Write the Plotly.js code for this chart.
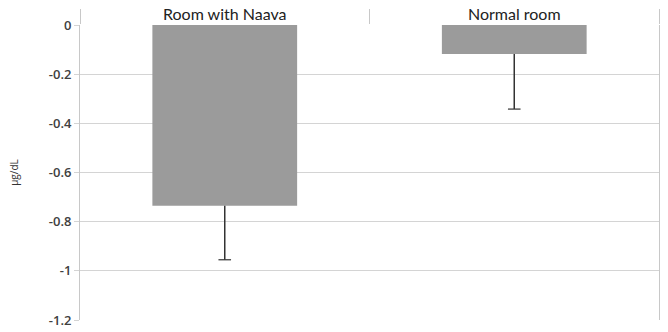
<!DOCTYPE html>
<html>
<head>
<meta charset="utf-8">
<script src="https://cdn.plot.ly/plotly-3.0.1.min.js"></script>
<style>html,body{margin:0;padding:0;background:#fff;}#chart{width:668px;height:332px;}</style>
</head>
<body>
<div id="chart"></div>
<script>
var categories = ["Room with Naava", "Normal room"];
var values = [-0.735, -0.118];
var errorsMinus = [0.22, 0.224];
var yTickValues = [0, -0.2, -0.4, -0.6, -0.8, -1, -1.2];
var yTickLabels = ["0", "-0.2", "-0.4", "-0.6", "-0.8", "-1", "-1.2"];

var barTrace = {
  type: "bar",
  x: categories,
  y: values,
  width: 0.5,
  marker: {color: "#9b9b9b", line: {width: 0}},
  error_y: {
    type: "data",
    symmetric: false,
    array: values.map(function(){return 0;}),
    arrayminus: errorsMinus,
    color: "#333333",
    thickness: 1.5,
    width: 0
  },
  hoverinfo: "none"
};

var capTrace = {
  type: "scatter",
  mode: "markers",
  x: categories,
  y: values.map(function(v, i){return v - errorsMinus[i];}),
  marker: {symbol: "line-ew", size: 9, color: "#333333", line: {color: "#333333", width: 1.2}},
  hoverinfo: "none"
};

var layout = {
  width: 668,
  height: 332,
  margin: {l: 80, r: 9, t: 25, b: 12},
  paper_bgcolor: "#ffffff",
  plot_bgcolor: "#ffffff",
  showlegend: false,
  xaxis: {
    type: "category",
    side: "top",
    range: [-0.5, 1.5],
    showgrid: false,
    showline: false,
    zeroline: false,
    ticks: "outside",
    tickson: "boundaries",
    ticklen: 15,
    tickcolor: "#c8c8c8",
    tickwidth: 1,
    ticklabelstandoff: 1,
    tickfont: {family: "Lato, 'Open Sans', sans-serif", size: 16, color: "#222222"}
  },
  yaxis: {
    range: [-1.2, 0],
    tickvals: yTickValues,
    ticktext: yTickLabels,
    showgrid: true,
    gridcolor: "#d4d4d4",
    gridwidth: 1,
    zeroline: false,
    showline: true,
    linecolor: "#c8c8c8",
    linewidth: 1,
    mirror: true,
    ticks: "outside",
    ticklen: 5,
    tickcolor: "#d4d4d4",
    tickfont: {family: "'Open Sans', 'Liberation Sans', sans-serif", size: 13, color: "#404040", weight: 600},
    title: {text: "µg/dL", font: {family: "'Open Sans', 'Liberation Sans', sans-serif", size: 10, color: "#333333"}, standoff: 28}
  }
};

Plotly.newPlot("chart", [barTrace, capTrace], layout, {displayModeBar: false, staticPlot: true});
</script>
</body>
</html>
